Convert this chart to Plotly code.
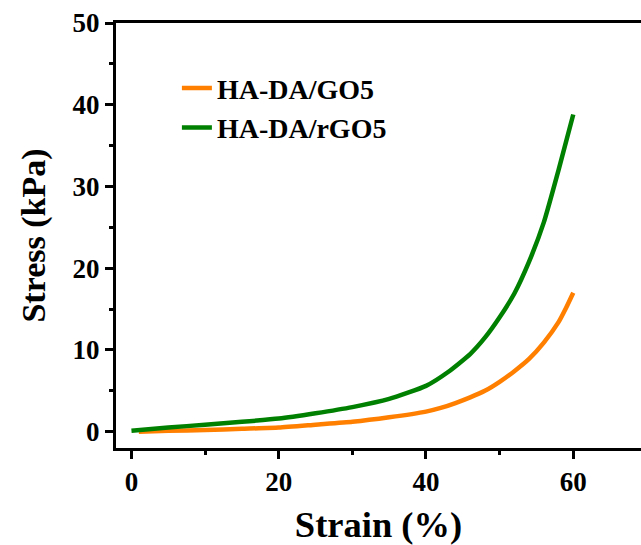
import plotly.graph_objects as go

# Data
strain_go = [1, 5, 10, 15, 20, 25, 30, 35, 40, 42, 44, 46, 48, 50, 52, 54, 56, 58, 59, 60]
stress_go = [0.0, 0.1, 0.2, 0.35, 0.5, 0.85, 1.2, 1.75, 2.45, 2.9, 3.5, 4.2, 5.0, 6.1, 7.4, 8.9, 10.9, 13.4, 15.1, 17.0]

strain_rgo = [0, 5, 10, 15, 20, 25, 30, 35, 40, 43, 46, 48, 50, 52, 54, 56, 58, 60]
stress_rgo = [0.1, 0.5, 0.85, 1.2, 1.6, 2.25, 3.0, 4.0, 5.6, 7.3, 9.5, 11.5, 14.0, 16.9, 20.8, 25.6, 32.0, 38.8]

names = ["HA-DA/GO5", "HA-DA/rGO5"]
colors = ["#FF7F00", "#008000"]

font_family = "Liberation Serif, Times New Roman, serif"

fig = go.Figure()
fig.add_trace(go.Scatter(x=strain_go, y=stress_go, mode="lines", name=names[0],
                         line=dict(color=colors[0], width=4.5, shape="spline", smoothing=0.5)))
fig.add_trace(go.Scatter(x=strain_rgo, y=stress_rgo, mode="lines", name=names[1],
                         line=dict(color=colors[1], width=4.5, shape="spline", smoothing=0.5)))

axis_common = dict(
    showline=True, linecolor="black", linewidth=3,
    ticks="outside", ticklen=8, tickwidth=3, tickcolor="black",
    showgrid=False, zeroline=False,
    tickfont=dict(family=font_family, size=27, color="black", weight="bold"),
)

fig.update_layout(
    width=641, height=545,
    margin=dict(l=116, r=0, t=23, b=97),
    plot_bgcolor="white", paper_bgcolor="white",
    font=dict(family=font_family, color="black"),
    showlegend=True,
    legend=dict(x=0.116, y=0.905, xanchor="left", yanchor="top",
                bgcolor="rgba(0,0,0,0)", tracegroupgap=0,
                font=dict(family=font_family, size=28, color="black", weight="bold")),
    xaxis=dict(range=[-2.1, 69.2], tickvals=[0, 20, 40, 60], mirror=True,
               minor=dict(tickvals=[10, 30, 50], ticks="outside", ticklen=4, tickwidth=3, tickcolor="black"),
               title=dict(text="Strain (%)", standoff=18,
                          font=dict(family=font_family, size=36.5, color="black", weight="bold")),
               **axis_common),
    yaxis=dict(range=[-2, 50], tickvals=[0, 10, 20, 30, 40, 50],
               minor=dict(tickvals=[5, 15, 25, 35, 45], ticks="outside", ticklen=4, tickwidth=3, tickcolor="black"),
               title=dict(text="Stress (kPa)", standoff=17,
                          font=dict(family=font_family, size=34, color="black", weight="bold")),
               **axis_common),
)

fig.write_html("out.html")
